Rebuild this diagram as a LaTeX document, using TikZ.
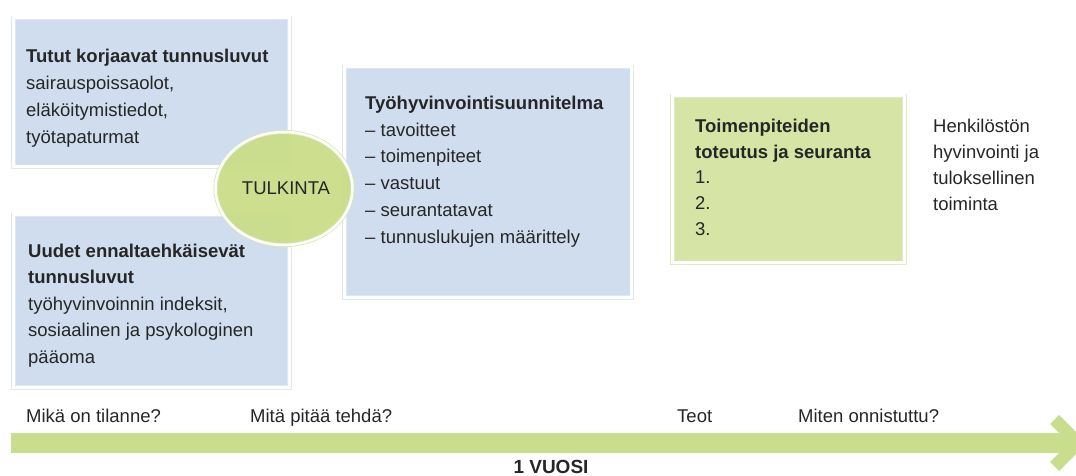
\documentclass[tikz,border=0pt]{standalone}
\usepackage{fontspec}
\setmainfont{Liberation Sans}
\usetikzlibrary{shapes.geometric}
\definecolor{boxblue}{HTML}{CFDDEF}
\definecolor{frameblue}{HTML}{DFE7F3}
\definecolor{boxgreen}{HTML}{D6E5A6}
\definecolor{framegreen}{HTML}{E0EBC3}
\definecolor{ellgreen}{HTML}{CADC88}
\definecolor{ellframe}{HTML}{D9E8AE}
\definecolor{bandgreen}{HTML}{C8DE8C}
\definecolor{txt}{HTML}{262626}
\begin{document}
\begin{tikzpicture}[x=1pt,y=-1pt,
  every node/.style={text=txt},
  bluebox/.style={anchor=north west, inner sep=0pt, fill=boxblue, draw=frameblue,
    line width=0.8pt, double=white, double distance=3pt},
  greenbox/.style={anchor=north west, inner sep=0pt, fill=boxgreen, draw=framegreen,
    line width=0.8pt, double=white, double distance=3pt},
  tblock/.style={anchor=north west, inner sep=0pt, align=left},
  lbl/.style={anchor=base west, inner sep=0pt, font=\fontsize{18.5}{22}\selectfont},
]
\useasboundingbox (0,0) rectangle (1076,476);

% boxes
\node[bluebox, minimum width=276pt, minimum height=149pt] (b1) at (13,17.5) {};
\node[bluebox, minimum width=276pt, minimum height=172.5pt] (b2) at (13,214.5) {};
\node[bluebox, minimum width=287.5pt, minimum height=230.5pt] (b3) at (344,66.5) {};
\node[greenbox, minimum width=232pt, minimum height=167pt] (g1) at (672,95.5) {};

% box texts
\node[tblock, font=\fontsize{18.5}{27}\selectfont] (t1) at (26,43.1)
  {\strut\textbf{Tutut korjaavat tunnusluvut}\\sairauspoissaolot,\\eläköitymistiedot,\\työtapaturmat};
\node[tblock, font=\fontsize{18.5}{26.5}\selectfont] (t2) at (28,238.45)
  {\strut\textbf{Uudet ennaltaehkäisevät}\\\textbf{tunnusluvut}\\työhyvinvoinnin indeksit,\\sosiaalinen ja psykologinen\\pääoma};
\node[tblock, font=\fontsize{18.5}{26.8}\selectfont] (t3) at (365,90.24)
  {\strut\textbf{Työhyvinvointisuunnitelma}\\– tavoitteet\\– toimenpiteet\\– vastuut\\– seurantatavat\\– tunnuslukujen määrittely};
\node[tblock, font=\fontsize{18.5}{25.8}\selectfont] (t4) at (695,113.94)
  {\strut\textbf{Toimenpiteiden}\\\textbf{toteutus ja seuranta}\\1.\\2.\\3.};
\node[tblock, font=\fontsize{18.5}{26}\selectfont] (t5) at (933,113.8)
  {\strut Henkilöstön\\hyvinvointi ja\\tuloksellinen\\toiminta};

% ellipse
\node[ellipse, minimum width=137pt, minimum height=113pt, inner sep=0pt,
  fill=ellgreen, fill opacity=0.95, text opacity=1, draw=ellframe, line width=0.8pt,
  double=white, double distance=2.5pt, font=\fontsize{18.5}{22}\selectfont] (tulk) at (284,188.5)
  {\hspace*{4pt}TULKINTA};

% timeline arrow
\fill[bandgreen] (11,433) rectangle (1062,453);
\fill[bandgreen] (1050,424) -- (1059,415) -- (1087,443) -- (1059,471) -- (1050,462) -- (1061,451) -- (1061,435) -- cycle;

% bottom labels
\node[lbl] (l1) at (26,422) {Mikä on tilanne?};
\node[lbl] (l2) at (250,422) {Mitä pitää tehdä?};
\node[lbl] (l3) at (677,422) {Teot};
\node[lbl] (l4) at (798,422) {Miten onnistuttu?};
\node[anchor=base, inner sep=0pt, font=\fontsize{19}{22}\selectfont\bfseries] (year) at (551,473) {1 VUOSI};
\end{tikzpicture}
\end{document}
